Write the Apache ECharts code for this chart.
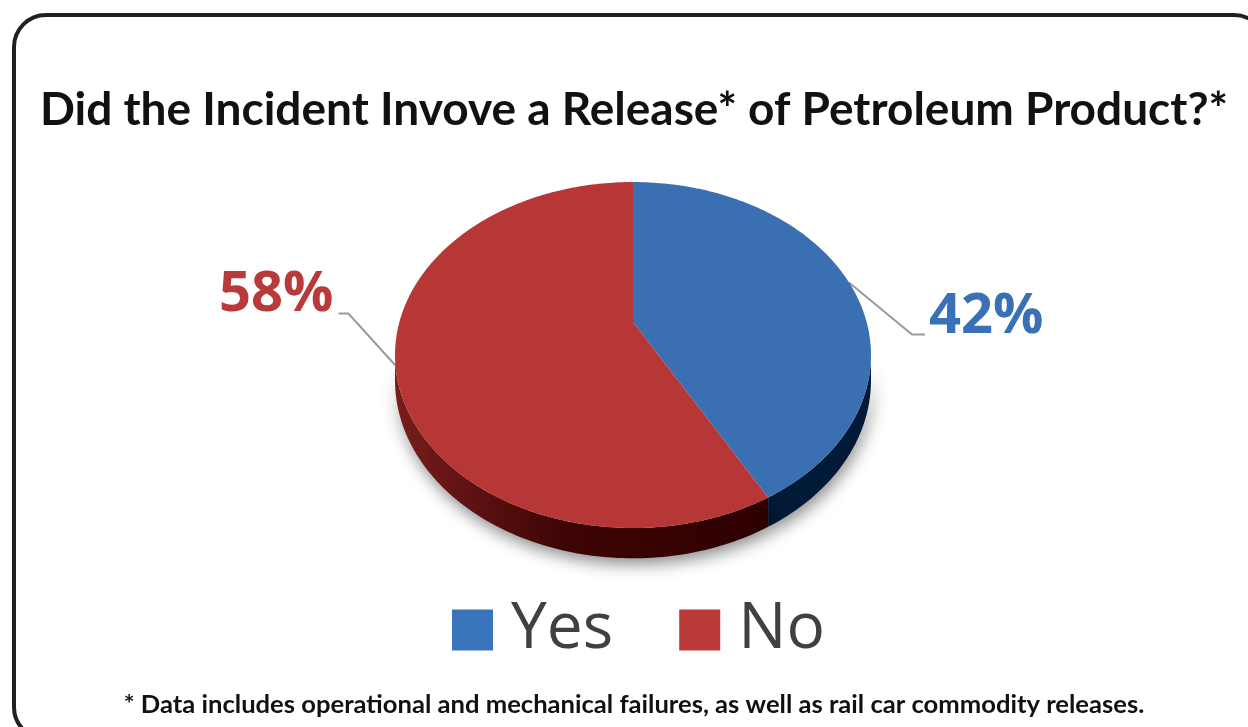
<!DOCTYPE html>
<html><head><meta charset="utf-8">
<script src="https://cdn.jsdelivr.net/npm/echarts@6/dist/echarts.min.js"></script>
<style>html,body{margin:0;padding:0;background:#fff}#chart{width:1248px;height:727px}</style>
</head><body><div id="chart"></div>
<script>
// ---- data ----
const categories = ['Yes', 'No'];
const values = [42, 58];
const labelTexts = ['42%', '58%'];
const titleText = 'Did the Incident Invove a Release* of Petroleum Product?*';
const footnoteText = '* Data includes operational and mechanical failures, as well as rail car commodity releases.';

// ---- styles ----
const legendColors = ['#3a74bd', '#bd3a3a'];
const topColors = ['#3a6fb2', '#b73737'];
const labelColors = ['#3a70b5', '#b83a3a'];
const labelLayout = [
  {dx: 63, dy: 52, h: 13, ty: -17},
  {dx: -47, dy: -52, h: -10, ty: -18}
];

// perspective ellipse geometry
const G = {cx: 633, cy: 322, A: 233.6, B: 166.7, k: 0.1908, D: 24.5};
function proj(theta, drop) {
  const u = Math.sin(theta), v = Math.cos(theta), w = 1 + G.k * v;
  return [G.cx + G.A * u / w, G.cy - G.B * v / w + (drop ? G.D / w : 0)];
}
function arc(a, b, drop) {
  const pts = [];
  const n = Math.max(2, Math.ceil((b - a) / (Math.PI / 180)));
  for (let i = 0; i <= n; i++) pts.push(proj(a + (b - a) * i / n, drop));
  return pts;
}
const visA = Math.acos(-G.k), visB = 2 * Math.PI - visA;

function renderItem(params, api) {
  const idx = params.seriesIndex;
  const total = values.reduce((s, v) => s + v, 0);
  let before = 0;
  for (let i = 0; i < idx; i++) before += values[i];
  const start = before / total * 2 * Math.PI;
  const end = start + api.value(0) / total * 2 * Math.PI;
  const children = [];
  // side
  const a = Math.max(start, visA), b = Math.min(end, visB);
  if (b > a) {
    const topArc = arc(a, b, false);
    const botArc = arc(a, b, true).reverse();
    const fill = idx === 0
      ? '#001a38'
      : new echarts.graphic.LinearGradient(400, 0, 770, 0, [
          {offset: 0, color: '#771c1c'},
          {offset: 0.45, color: '#3e0404'},
          {offset: 1, color: '#2e0000'}
        ], true);
    children.push({
      type: 'polygon', z2: 1,
      shape: {points: topArc.concat(botArc)},
      style: {fill: fill, shadowBlur: 16, shadowColor: 'rgba(0,0,0,0.45)', shadowOffsetY: 6, shadowOffsetX: 2}
    });
  }
  // top face
  children.push({
    type: 'polygon', z2: 2,
    shape: {points: [[G.cx, G.cy]].concat(arc(start, end, false))},
    style: {fill: topColors[idx]}
  });
  // label line + label
  const mid = (start + end) / 2;
  const p0 = proj(mid, false);
  const L = labelLayout[idx];
  const p1 = [p0[0] + L.dx, p0[1] + L.dy];
  const p2 = [p1[0] + L.h, p1[1]];
  children.push({
    type: 'polyline', z2: 0,
    shape: {points: [p0, p1, p2]},
    style: {stroke: '#9a9a9a', lineWidth: 2, fill: null}
  });
  children.push({
    type: 'text', z2: 3,
    style: {
      x: p2[0] + (L.h > 0 ? 4 : -5), y: p2[1] + L.ty,
      text: labelTexts[idx],
      fill: labelColors[idx],
      font: 'bold 56px "Open Sans"',
      textAlign: L.h > 0 ? 'left' : 'right',
      textVerticalAlign: 'middle'
    }
  });
  return {type: 'group', children: children};
}

const chart = echarts.init(document.getElementById('chart'));
chart.setOption({
  backgroundColor: '#ffffff',
  animation: false,
  legend: {
    left: 447, top: 593,
    itemWidth: 41, itemHeight: 41, itemGap: 66,
    icon: 'rect',
    data: categories,
    textStyle: {fontFamily: 'Open Sans', fontSize: 64, color: '#404040', padding: [0, 0, 0, 13]}
  },
  graphic: [
    {type: 'rect', shape: {x: 14, y: 15, width: 1252, height: 724, r: 32},
     style: {fill: null, stroke: '#231f20', lineWidth: 4}},
    {type: 'text', x: 634, y: 110,
     style: {text: titleText, font: 'bold 46px Lato', fill: '#111', textAlign: 'center', textVerticalAlign: 'middle'}},
    {type: 'text', x: 634, y: 705,
     style: {text: footnoteText, font: 'bold 25.6px Lato', fill: '#111', textAlign: 'center', textVerticalAlign: 'middle'}}
  ],
  series: categories.map((name, i) => ({
    type: 'custom', name: name, coordinateSystem: 'none',
    itemStyle: {color: legendColors[i]},
    data: [[values[i]]],
    renderItem: renderItem
  }))
});
</script></body></html>
